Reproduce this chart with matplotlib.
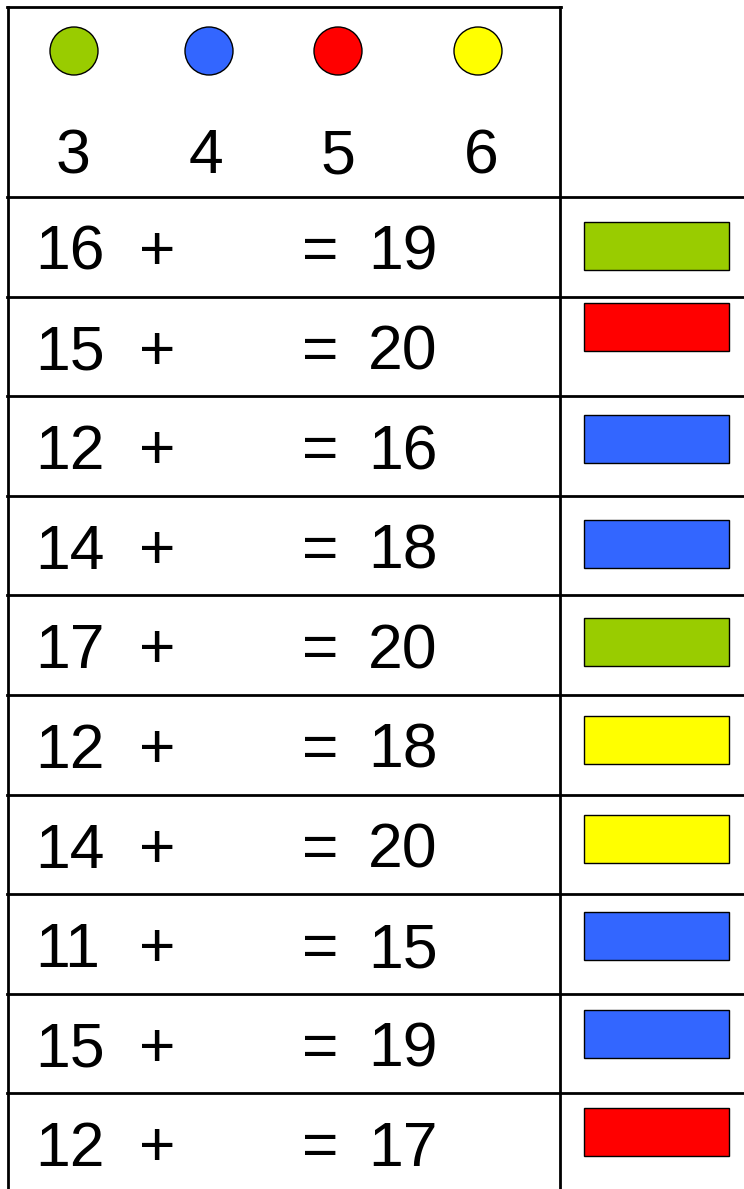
import matplotlib
matplotlib.use('Agg')
import matplotlib.pyplot as plt
from matplotlib.patches import Circle, Rectangle

# colour key: colour -> number
key_colors = ['#99CC00', '#3366FF', '#FF0000', '#FFFF00']
key_values = [3, 4, 5, 6]

# equations: first + ? = total
first = [16, 15, 12, 14, 17, 12, 14, 11, 15, 12]
totals = [19, 20, 16, 18, 20, 18, 20, 15, 19, 17]

# layout (pixels)
W, H = 744, 1189
dot_x = [74, 209, 338, 478]
num_x = [73, 206, 338, 481]
header_bottom = 197
row_h = 99.6
rect_offsets = [25, 6, 19, 24, 23, 21, 20, 18, 16, 15]
lw = 2.0

fig = plt.figure(figsize=(W / 100, H / 100), dpi=100)
ax = fig.add_axes([0, 0, 1, 1])
ax.set_xlim(0, W)
ax.set_ylim(H, 0)
ax.axis('off')

font = dict(family=['Liberation Sans', 'DejaVu Sans'], fontsize=45, color='black')

# grid lines
ax.plot([7, 561], [7, 7], c='k', lw=lw, solid_capstyle='projecting')
ax.plot([7.5, 7.5], [7, H], c='k', lw=lw, solid_capstyle='projecting')
ax.plot([560, 560], [7, H], c='k', lw=lw, solid_capstyle='projecting')

# header key
for xd, xn, c, v in zip(dot_x, num_x, key_colors, key_values):
    ax.add_patch(Circle((xd, 51), 24, facecolor=c, edgecolor='k', lw=1))
    ax.text(xn, 173, str(v), ha='center', va='baseline', **font)

# equation rows
for i, (a, t) in enumerate(zip(first, totals)):
    top = header_bottom + i * row_h
    ax.plot([7, W], [top, top], c='k', lw=lw)
    base = top + 73
    ax.text(35, base, str(a), ha='left', va='baseline', **font)
    ax.text(157, base, '+', ha='center', va='baseline', **font)
    ax.text(320, base, '=', ha='center', va='baseline', **font)
    ax.text(368, base, str(t), ha='left', va='baseline', **font)
    c = key_colors[key_values.index(t - a)]
    ax.add_patch(Rectangle((584, top + rect_offsets[i]), 145, 48,
                           facecolor=c, edgecolor='k', lw=1))

fig.savefig('out.png', dpi=100)
